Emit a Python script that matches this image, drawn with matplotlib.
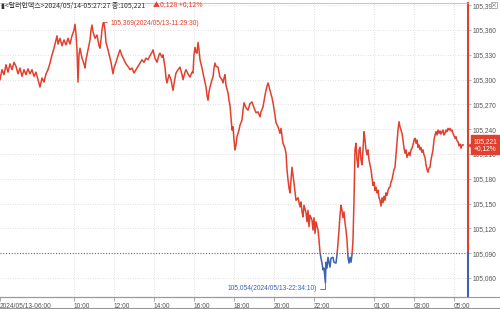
import matplotlib
matplotlib.use("Agg")
import matplotlib.pyplot as plt
from matplotlib.patches import Rectangle
from matplotlib.lines import Line2D
from matplotlib.transforms import offset_copy

# hours since 2024/05/13 00:00 (24 = 05/14 00:00)
times = [
    6.30, 6.40, 6.50, 6.60, 6.70, 6.80, 6.90, 7.00, 7.10, 7.20,
    7.30, 7.40, 7.50, 7.60, 7.70, 7.80, 7.90, 8.00, 8.10, 8.20,
    8.30, 8.40, 8.50, 8.60, 8.70, 8.80, 8.90, 9.00, 9.10, 9.15,
    9.20, 9.30, 9.40, 9.50, 9.60, 9.70, 9.80, 9.90, 10.00, 10.05,
    10.10, 10.15, 10.20, 10.25, 10.30, 10.40, 10.50, 10.55, 10.60, 10.70,
    10.80, 10.85, 10.90, 10.95, 11.05, 11.15, 11.25, 11.30, 11.35, 11.40,
    11.45, 11.49, 11.55, 11.60, 11.70, 11.80, 11.85, 11.95, 12.00, 12.10,
    12.20, 12.30,
    12.40, 12.50, 12.60, 12.70, 12.80, 12.90, 13.00, 13.10, 13.20, 13.30,
    13.40, 13.50, 13.60, 13.70, 13.80, 13.90, 13.95, 14.05, 14.15, 14.25,
    14.30, 14.40, 14.45, 14.55, 14.60, 14.65, 14.75, 14.85, 14.95, 15.05,
    15.10, 15.20, 15.30, 15.40, 15.45, 15.55, 15.60, 15.70, 15.80, 15.90,
    15.95, 16.00, 16.05, 16.10, 16.15, 16.20, 16.25, 16.30, 16.40, 16.45,
    16.55, 16.60, 16.65, 16.70, 16.75, 16.80, 16.90, 16.95, 17.00, 17.05,
    17.10, 17.20, 17.25, 17.30, 17.40, 17.45, 17.50, 17.55, 17.60, 17.70,
    17.75, 17.80,
    17.85, 17.90, 17.95, 18.00, 18.05, 18.10, 18.15, 18.25, 18.30, 18.40,
    18.45, 18.50, 18.60, 18.70, 18.80, 18.90, 19.00, 19.10, 19.20, 19.30,
    19.35, 19.45, 19.55, 19.60, 19.65, 19.70, 19.75, 19.80, 19.90, 19.95,
    20.05, 20.10, 20.20, 20.30, 20.35, 20.45, 20.55, 20.60, 20.65, 20.70,
    20.75, 20.80, 20.85, 20.90, 20.95, 21.00, 21.05, 21.10, 21.20, 21.30,
    21.35, 21.40, 21.45, 21.50, 21.60, 21.65, 21.70, 21.75, 21.80, 21.90,
    21.95, 22.00, 22.05, 22.10, 22.20, 22.25, 22.30, 22.35, 22.40, 22.45,
    22.50, 22.57, 22.60, 22.65, 22.70, 22.75, 22.80, 22.85, 22.95, 23.00,
    23.10, 23.15, 23.20, 23.25, 23.30, 23.35, 23.40, 23.45, 23.50, 23.55,
    23.60, 23.65, 23.70, 23.75, 23.80, 23.85, 23.90,
    23.95, 24.00, 24.05, 24.10, 24.15, 24.20, 24.25, 24.30, 24.35, 24.40,
    24.45, 24.50, 24.55, 24.60, 24.65, 24.70, 24.75, 24.80, 24.85, 24.90,
    24.95, 25.00, 25.05, 25.10, 25.15, 25.20, 25.25, 25.30, 25.35, 25.40,
    25.45, 25.50, 25.55, 25.60, 25.65, 25.70, 25.75, 25.80, 25.85, 25.90,
    25.95, 26.00, 26.05, 26.10, 26.15, 26.20, 26.25, 26.30, 26.35, 26.40,
    26.45, 26.50, 26.55, 26.60, 26.65, 26.70, 26.75, 26.80, 26.85, 26.90,
    26.95, 27.00, 27.05, 27.10, 27.15, 27.20, 27.25, 27.30, 27.35, 27.40,
    27.45, 27.50, 27.55, 27.60, 27.65, 27.70, 27.75, 27.80, 27.85, 27.90,
    27.95, 28.00, 28.05, 28.10, 28.15, 28.20, 28.25, 28.30, 28.35, 28.40,
    28.45, 28.50, 28.55, 28.60, 28.65, 28.70, 28.75, 28.80, 28.85, 28.90,
    28.95, 29.00, 29.05, 29.10, 29.15, 29.20, 29.25, 29.30, 29.35, 29.40,
    29.46,
]
prices = [
    105.300, 105.312, 105.306, 105.318, 105.309, 105.319, 105.312, 105.321, 105.316, 105.307,
    105.314, 105.304, 105.312, 105.306, 105.313, 105.307, 105.312, 105.304, 105.309, 105.300,
    105.291, 105.302, 105.297, 105.307, 105.312, 105.320, 105.330, 105.338, 105.348, 105.353,
    105.343, 105.350, 105.341, 105.348, 105.342, 105.350, 105.343, 105.353, 105.360, 105.367,
    105.355, 105.336, 105.297, 105.330, 105.338, 105.326, 105.319, 105.314, 105.324, 105.336,
    105.348, 105.360, 105.366, 105.358, 105.350, 105.354, 105.341, 105.338, 105.348, 105.360,
    105.368, 105.369, 105.360, 105.345, 105.336, 105.326, 105.321, 105.307, 105.314, 105.321,
    105.329, 105.336,
    105.329, 105.324, 105.319, 105.316, 105.312, 105.314, 105.308, 105.312, 105.316, 105.320,
    105.324, 105.321, 105.326, 105.324, 105.329, 105.333, 105.336, 105.326, 105.321, 105.330,
    105.332, 105.327, 105.330, 105.315, 105.302, 105.296, 105.306, 105.300, 105.287, 105.302,
    105.308, 105.312, 105.315, 105.306, 105.300, 105.309, 105.312, 105.307, 105.303, 105.309,
    105.308, 105.330, 105.339, 105.333, 105.332, 105.345, 105.336, 105.324, 105.314, 105.308,
    105.297, 105.291, 105.281, 105.275, 105.285, 105.291, 105.300, 105.303, 105.314, 105.320,
    105.316, 105.315, 105.309, 105.303, 105.300, 105.296, 105.302, 105.306, 105.293, 105.284,
    105.275, 105.269,
    105.254, 105.239, 105.243, 105.227, 105.215, 105.221, 105.231, 105.239, 105.245, 105.251,
    105.263, 105.272, 105.266, 105.263, 105.271, 105.273, 105.266, 105.260, 105.261, 105.255,
    105.261, 105.267, 105.281, 105.287, 105.292, 105.296, 105.292, 105.287, 105.278, 105.272,
    105.257, 105.248, 105.243, 105.235, 105.241, 105.223, 105.217, 105.211, 105.191, 105.179,
    105.169, 105.163, 105.179, 105.194, 105.185, 105.175, 105.164, 105.154, 105.157, 105.146,
    105.152, 105.140, 105.134, 105.148, 105.139, 105.128, 105.142, 105.122, 105.136, 105.130,
    105.118, 105.133, 105.114, 105.128, 105.118, 105.106, 105.091, 105.084, 105.078, 105.070,
    105.072, 105.054, 105.079, 105.072, 105.085, 105.079, 105.073, 105.084, 105.085, 105.079,
    105.078, 105.088, 105.102, 105.118, 105.136, 105.148, 105.142, 105.133, 105.140, 105.127,
    105.118, 105.106, 105.085, 105.078, 105.085, 105.079, 105.088,
    105.106, 105.154, 105.215, 105.223, 105.203, 105.194, 105.215, 105.218, 105.203, 105.197,
    105.215, 105.237, 105.227, 105.215, 105.209, 105.215, 105.203, 105.197, 105.191, 105.181,
    105.172, 105.176, 105.166, 105.170, 105.163, 105.166, 105.157, 105.154, 105.147, 105.157,
    105.151, 105.159, 105.154, 105.163, 105.160, 105.166, 105.169, 105.170, 105.176, 105.179,
    105.185, 105.191, 105.194, 105.209, 105.223, 105.239, 105.249, 105.243, 105.239, 105.235,
    105.227, 105.217, 105.211, 105.215, 105.206, 105.209, 105.212, 105.208, 105.215, 105.217,
    105.221, 105.227, 105.229, 105.223, 105.227, 105.218, 105.221, 105.215, 105.218, 105.212,
    105.215, 105.209, 105.206, 105.197, 105.191, 105.188, 105.193, 105.194, 105.203, 105.209,
    105.215, 105.227, 105.233, 105.237, 105.233, 105.239, 105.235, 105.238, 105.234, 105.237,
    105.239, 105.233, 105.235, 105.239, 105.237, 105.241, 105.239, 105.241, 105.238, 105.239,
    105.235, 105.232, 105.229, 105.231, 105.226, 105.225, 105.220, 105.222, 105.217, 105.221,
    105.221,
]

base_price = 105.090
y_ticks = [105.060, 105.090, 105.120, 105.150, 105.180, 105.210,
           105.240, 105.270, 105.300, 105.330, 105.360, 105.390]
x_ticks = [6.3, 10, 12, 14, 16, 18, 20, 22, 25, 27, 29]
x_labels = ["2024/05/13-06:00", "10:00", "12:00", "14:00", "16:00", "18:00",
            "20:00", "22:00", "01:00", "03:00", "05:00"]
hi_t, hi_v, hi_label = 11.49, 105.369, "(2024/05/13-11:29:30)"
lo_t, lo_v, lo_label = 22.57, 105.054, "(2024/05/13-22:34:10)"
last_v, last_pct = 105.221, "+0,12%"
header = "▮<달러인덱스>2024/05/14-05:27:27 종:105,221"
change = "▲0,128 +0,12%"

RED = "#e2402f"
BLUE = "#3d63b0"
GRID = "#d6d6d6"
TXT = "#555555"
NUM_FONT = "Liberation Sans"
KR_FONT = ["Noto Sans CJK KR", "DejaVu Sans"]


def kr(v):
    return f"{v:.3f}".replace(".", ",")


fig = plt.figure(figsize=(5, 3.09), dpi=100)
ax = fig.add_axes([0, 12 / 309, 468 / 500, 294 / 309])
ax.set_xlim(6.3, 29.7)
ax.set_ylim(105.037, 105.3927)

for y in y_ticks:
    if y != base_price:
        ax.axhline(y, color=GRID, lw=0.6, ls=(0, (1, 2)))
for x in x_ticks[1:]:
    ax.axvline(x, color=GRID, lw=0.6, ls=(0, (1, 2)))
ax.axhline(base_price, color="#666666", lw=0.8, ls=(0, (1, 1.5)))

# red above the base price, blue below it
red, = ax.plot(times, prices, color=RED, lw=1.1)
red.set_clip_path(Rectangle((0, base_price), 40, 1, transform=ax.transData))
blue, = ax.plot(times, prices, color=BLUE, lw=1.1)
blue.set_clip_path(Rectangle((0, base_price - 1), 40, 1, transform=ax.transData))

yt = ax.get_yaxis_transform()
ax.plot([1, 1], [base_price, 105.3927], transform=yt, color=RED, lw=1.5, clip_on=False)
ax.plot([1, 1], [105.037, base_price], transform=yt, color=BLUE, lw=1.5, clip_on=False)

for s in ["left", "right"]:
    ax.spines[s].set_visible(False)
ax.spines["top"].set_color("#bbbbbb")
ax.spines["top"].set_linewidth(0.6)
ax.spines["bottom"].set_color("#999999")
ax.spines["bottom"].set_linewidth(0.8)

ax.yaxis.tick_right()
ax.set_yticks(y_ticks, [kr(v) for v in y_ticks])
ax.tick_params(axis="y", length=2, width=0.5, color="#999999", pad=1,
               labelsize=4.8, labelcolor=TXT)
ax.set_xticks(x_ticks, x_labels)
ax.tick_params(axis="x", length=3, width=0.5, color="#888888", pad=1,
               labelsize=4.8, labelcolor=TXT)
for lbl in ax.get_xticklabels() + ax.get_yticklabels():
    lbl.set_family(NUM_FONT)
for lbl in ax.get_xticklabels():
    lbl.set_ha("left")

ax.annotate(kr(hi_v) + hi_label, xy=(hi_t, hi_v), xytext=(4.5, -1),
            textcoords="offset points", ha="left", va="center",
            fontsize=4.8, family=NUM_FONT, color=RED,
            arrowprops=dict(arrowstyle="-", color=RED, lw=0.6, shrinkA=0, shrinkB=0))
ax.annotate(kr(lo_v) + lo_label, xy=(lo_t, lo_v), xytext=(-6, -4),
            textcoords="offset points", ha="right", va="center",
            fontsize=4.8, family=NUM_FONT, color=BLUE,
            arrowprops=dict(arrowstyle="-", color=BLUE, lw=0.6, shrinkA=0, shrinkB=0,
                            connectionstyle="angle,angleA=0,angleB=90,rad=0"))

# current price tag on the right axis
ax.plot([1.0], [last_v], marker="<", ms=5, color=RED, mec=RED, clip_on=False,
        transform=offset_copy(yt, fig=fig, x=3, y=0, units="dots"))
ax.annotate(f"{kr(last_v)}\n{last_pct}", xy=(1.0, last_v), xycoords=yt,
            xytext=(12.3, 0), textcoords="offset points", ha="center", va="center",
            fontsize=4.8, family=NUM_FONT, color="white", linespacing=1.05,
            bbox=dict(boxstyle="square,pad=0.35", fc=RED, ec=RED),
            annotation_clip=False)

fig.text(0.002, 1 - 6 / 309, header, fontsize=5, color="#333333",
         family=KR_FONT, va="center")
fig.text(0.306, 1 - 6 / 309, change, fontsize=5, color=RED,
         family=KR_FONT, va="center")

# small close box at the top right corner
bx, by, bw, bh = 491 / 500, 1 - 8 / 309, 6 / 500, 6 / 309
fig.add_artist(Rectangle((bx, by), bw, bh, transform=fig.transFigure,
                         fc="white", ec="#999999", lw=0.5))
fig.add_artist(Line2D([bx + bw * 0.2, bx + bw * 0.8], [by + bh * 0.2, by + bh * 0.8],
                      color="#999999", lw=0.5))
fig.add_artist(Line2D([bx + bw * 0.2, bx + bw * 0.8], [by + bh * 0.8, by + bh * 0.2],
                      color="#999999", lw=0.5))

fig.add_artist(Line2D([0, 1], [12 / 309, 12 / 309], color="#999999", lw=0.8))
fig.add_artist(Line2D([0, 1], [1 / 309, 1 / 309], color="#999999", lw=0.8))

fig.savefig("out.png", dpi=100)
